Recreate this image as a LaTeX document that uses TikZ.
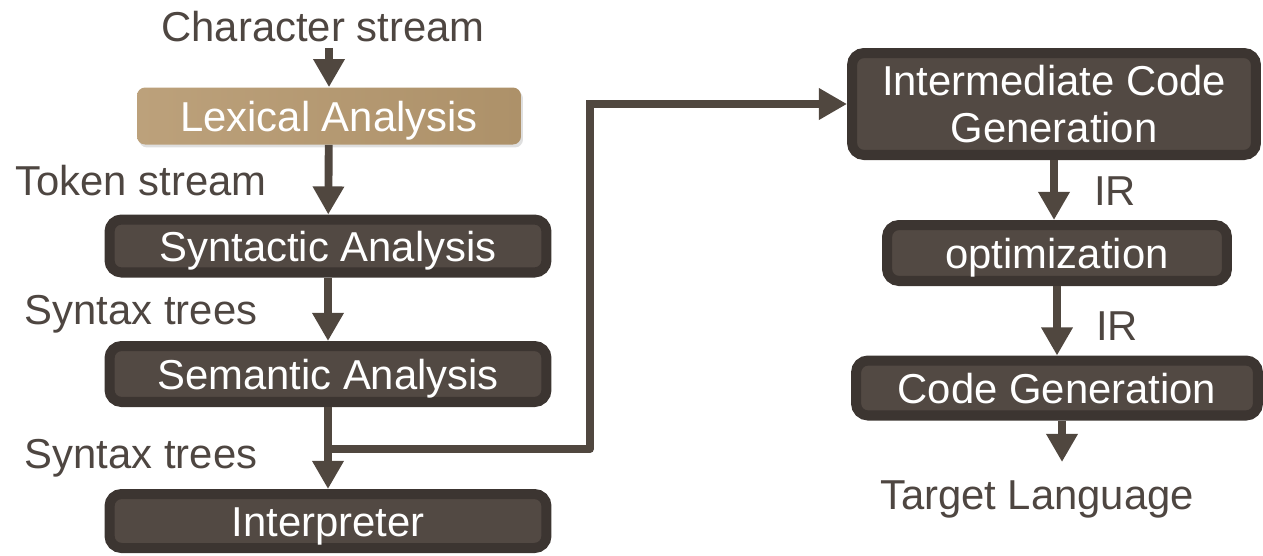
\documentclass[tikz,border=0pt]{standalone}
\usepackage{fontspec}
\setmainfont{Liberation Sans}
\usetikzlibrary{arrows.meta,shadows}
\definecolor{boxfill}{HTML}{524943}
\definecolor{boxline}{HTML}{3C3531}
\definecolor{flowcol}{HTML}{50473F}
\definecolor{lblcol}{HTML}{4E4641}
\definecolor{lexleft}{HTML}{BCA17B}
\definecolor{lexright}{HTML}{AD9169}
\tikzset{
  stage/.style={draw=boxline, fill=boxfill, line width=5.7pt, rounded corners=0.24cm,
    text=white, inner sep=0pt, align=center, font=\fontsize{23.8}{27.2}\selectfont},
  oneline/.style={text height=21.9pt, text depth=3.8pt},
  lexstage/.style={rounded corners=0.16cm, left color=lexleft, right color=lexright,
    text=white, inner sep=0pt, minimum width=7.68cm, minimum height=1.14cm,
    font=\fontsize{23.8}{27.2}\selectfont, oneline,
    drop shadow={opacity=0.25, shadow xshift=0.04cm, shadow yshift=-0.06cm}},
  lbl/.style={text=lblcol, inner sep=3pt, font=\fontsize{23.8}{27.2}\selectfont},
  flow/.style={draw=flowcol, line width=4.5pt, -{Triangle[width=17pt,length=16pt]}},
  plain/.style={draw=flowcol, line width=4.5pt, line cap=round}
}
\begin{document}
\begin{tikzpicture}[x=0.02cm, y=-0.02cm]
  \useasboundingbox (0,0) rectangle (1263,555);
  \node[lbl] (chars) at (323,27) {Character stream};
  \node[lexstage] (lex) at (329,116) {Lexical Analysis};
  \node[lbl] (tok) at (141,181) {Token stream};
  \node[stage, oneline, minimum width=8.74cm, minimum height=1.06cm] (syn) at (328,246) {Syntactic Analysis};
  \node[lbl] (trees1) at (141,314) {Syntax trees};
  \node[stage, oneline, minimum width=8.74cm, minimum height=1.12cm] (sem) at (328,374) {Semantic Analysis};
  \node[lbl] (trees2) at (141,458) {Syntax trees};
  \node[stage, oneline, minimum width=8.74cm, minimum height=1.08cm] (interp) at (328,521) {Interpreter};
  \node[stage, minimum width=8.08cm, minimum height=2.04cm] (icg) at (1054,104) {Intermediate Code\\Generation};
  \node[lbl] (ir1) at (1115,191) {IR};
  \node[stage, oneline, minimum width=6.80cm, minimum height=1.12cm] (opt) at (1057,253) {optimization};
  \node[lbl] (ir2) at (1117,326) {IR};
  \node[stage, oneline, minimum width=8.04cm, minimum height=1.10cm] (cg) at (1057,388) {Code Generation};
  \node[lbl] (target) at (1037,499) {Target Language};
  \coordinate (br) at (328,449);
  \coordinate (turn) at (590,449);
  \coordinate (tgt) at (1062,462);
  \draw[flow] (chars.south -| lex) -- (lex);
  \draw[flow] (lex) -- (syn);
  \draw[flow] (syn) -- (sem);
  \draw[flow] (sem) -- (interp);
  \draw[plain] (br) -- (turn);
  \draw[flow] (turn) |- (icg);
  \draw[flow] (icg) -- (icg |- opt.north);
  \draw[flow] (opt) -- (cg);
  \draw[flow] (cg.south -| tgt) -- (tgt);
\end{tikzpicture}
\end{document}
